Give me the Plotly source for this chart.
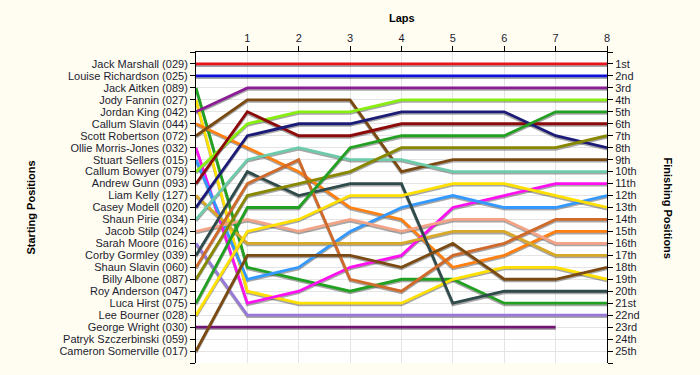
import plotly.graph_objects as go

laps = [0, 1, 2, 3, 4, 5, 6, 7, 8]

start_names = [
    "Jack Marshall (029)", "Louise Richardson (025)", "Jack Aitken (089)",
    "Jody Fannin (027)", "Jordan King (042)", "Callum Slavin (044)",
    "Scott Robertson (072)", "Ollie Morris-Jones (032)", "Stuart Sellers (015)",
    "Callum Bowyer (079)", "Andrew Gunn (093)", "Liam Kelly (127)",
    "Casey Modell (020)", "Shaun Pirie (034)", "Jacob Stilp (024)",
    "Sarah Moore (016)", "Corby Gormley (039)", "Shaun Slavin (060)",
    "Billy Albone (087)", "Roy Anderson (047)", "Luca Hirst (075)",
    "Lee Bourner (028)", "George Wright (030)", "Patryk Szczerbinski (059)",
    "Cameron Somerville (017)",
]

finish_labels = [
    "1st", "2nd", "3rd", "4th", "5th", "6th", "7th", "8th", "9th", "10th",
    "11th", "12th", "13th", "14th", "15th", "16th", "17th", "18th", "19th",
    "20th", "21st", "22nd", "23rd", "24th", "25th",
]

# positions per lap (lap 0 = start)
jack_marshall      = [1, 1, 1, 1, 1, 1, 1, 1, 1]
louise_richardson  = [2, 2, 2, 2, 2, 2, 2, 2, 2]
jack_aitken        = [3, 18, 19, 20, 19, 19, 21, 21, 21]
jody_fannin        = [4, 20, 21, 21, 21, 19, 18, 18, 19]
jordan_king        = [5, 3, 3, 3, 3, 3, 3, 3, 3]
callum_slavin      = [6, 8, 10, 13, 14, 18, 17, 15, 15]
scott_robertson    = [7, 4, 4, 4, 10, 9, 9, 9, 9]
ollie_morris_jones = [8, 21, 20, 18, 17, 13, 12, 11, 11]
stuart_sellers     = [9, 19, 18, 15, 13, 12, 13, 13, 12]
callum_bowyer      = [10, 6, 5, 5, 4, 4, 4, 4, 4]
andrew_gunn        = [11, 5, 7, 7, 6, 6, 6, 6, 6]
liam_kelly         = [12, 16, 16, 16, 16, 15, 15, 17, 17]
casey_modell       = [13, 7, 6, 6, 5, 5, 5, 7, 8]
shaun_pirie        = [14, 9, 8, 9, 9, 10, 10, 10, 10]
jacob_stilp        = [15, 14, 15, 14, 15, 14, 14, 16, 16]
sarah_moore        = [16, 22, 22, 22, 22, 22, 22, 22, 22]
corby_gormley      = [17, 10, 12, 11, 11, 21, 20, 20, 20]
shaun_slavin       = [18, 11, 9, 19, 20, 17, 16, 14, 14]
billy_albone       = [19, 12, 11, 10, 8, 8, 8, 8, 7]
luca_hirst         = [21, 13, 13, 8, 7, 7, 7, 5, 5]
lee_bourner        = [22, 15, 14, 12, 12, 11, 11, 12, 13]
george_wright      = [23, 23, 23, 23, 23, 23, 23, 23, None]
cameron_somerville = [25, 17, 17, 17, 18, 16, 19, 19, 18]

series = [
    ("Jack Marshall (029)", jack_marshall),
    ("Louise Richardson (025)", louise_richardson),
    ("Jack Aitken (089)", jack_aitken),
    ("Jody Fannin (027)", jody_fannin),
    ("Jordan King (042)", jordan_king),
    ("Callum Slavin (044)", callum_slavin),
    ("Scott Robertson (072)", scott_robertson),
    ("Ollie Morris-Jones (032)", ollie_morris_jones),
    ("Stuart Sellers (015)", stuart_sellers),
    ("Callum Bowyer (079)", callum_bowyer),
    ("Andrew Gunn (093)", andrew_gunn),
    ("Liam Kelly (127)", liam_kelly),
    ("Casey Modell (020)", casey_modell),
    ("Shaun Pirie (034)", shaun_pirie),
    ("Jacob Stilp (024)", jacob_stilp),
    ("Sarah Moore (016)", sarah_moore),
    ("Corby Gormley (039)", corby_gormley),
    ("Shaun Slavin (060)", shaun_slavin),
    ("Billy Albone (087)", billy_albone),
    ("Luca Hirst (075)", luca_hirst),
    ("Lee Bourner (028)", lee_bourner),
    ("George Wright (030)", george_wright),
    ("Cameron Somerville (017)", cameron_somerville),
]

colors = {
    "Jack Marshall (029)": "#E8141C",
    "Louise Richardson (025)": "#1010DD",
    "Jack Aitken (089)": "#22A022",
    "Jody Fannin (027)": "#FFE000",
    "Jordan King (042)": "#8A1C94",
    "Callum Slavin (044)": "#FF8010",
    "Scott Robertson (072)": "#7A4A12",
    "Ollie Morris-Jones (032)": "#FF10F0",
    "Stuart Sellers (015)": "#3399FF",
    "Callum Bowyer (079)": "#88EE10",
    "Andrew Gunn (093)": "#8C0A0A",
    "Liam Kelly (127)": "#D8A828",
    "Casey Modell (020)": "#1C1C78",
    "Shaun Pirie (034)": "#6CCCAA",
    "Jacob Stilp (024)": "#F4A486",
    "Sarah Moore (016)": "#9878D8",
    "Corby Gormley (039)": "#2F4A4A",
    "Shaun Slavin (060)": "#D06A2A",
    "Billy Albone (087)": "#888800",
    "Luca Hirst (075)": "#22A022",
    "Lee Bourner (028)": "#FFE000",
    "George Wright (030)": "#741474",
    "Cameron Somerville (017)": "#7A4A12",
}

FONT = "Liberation Sans, Arial, sans-serif"
TXT = "#1c1c30"
BG = "#FFFDF2"
SHADOW_SHIFT = 0.13

fig = go.Figure()

# shadows
for name, vals in series:
    fig.add_trace(go.Scatter(
        x=laps, y=[v + SHADOW_SHIFT if v is not None else None for v in vals],
        mode="lines", line=dict(color="rgba(60,60,60,0.45)", width=2.8),
        hoverinfo="skip", showlegend=False, yaxis="y",
    ))

# coloured lines
for name, vals in series:
    fig.add_trace(go.Scatter(
        x=laps, y=vals, mode="lines", name=name,
        line=dict(color=colors[name], width=2.8),
        showlegend=False, yaxis="y2",
    ))

ticks = list(range(0, 27))
left_text = [""] + start_names + [""]
right_text = [""] + finish_labels + [""]

fig.update_layout(
    width=700, height=375,
    margin=dict(l=196, r=93, t=52, b=12),
    paper_bgcolor=BG,
    plot_bgcolor="#FFFFFF",
    font=dict(family=FONT, size=11, color=TXT),
    xaxis=dict(
        side="top", range=[0, 8], tickvals=[1, 2, 3, 4, 5, 6, 7, 8],
        ticks="outside", ticklen=5, tickcolor="#000", showline=True,
        linecolor="#000", linewidth=1, showgrid=True, gridcolor="#E4E4E4",
        zeroline=False, tickfont=dict(size=11, color=TXT), automargin=False,
    ),
    yaxis=dict(
        range=[26, 0], tickvals=ticks, ticktext=left_text,
        ticks="outside", ticklen=5, tickcolor="#000", showline=True,
        linecolor="#000", linewidth=1, showgrid=True, gridcolor="#E4E4E4",
        zeroline=False, tickfont=dict(size=11, color=TXT), automargin=False,
    ),
    yaxis2=dict(
        range=[26, 0], tickvals=ticks, ticktext=right_text, overlaying="y",
        side="right", ticks="outside", ticklen=5, tickcolor="#000",
        showline=True, linecolor="#000", linewidth=1, showgrid=False,
        zeroline=False, tickfont=dict(size=11, color=TXT), automargin=False,
    ),
    annotations=[
        dict(text="<b>Laps</b>", xref="paper", yref="paper", x=0.5, y=1,
             yanchor="middle", xanchor="center", yshift=34, showarrow=False,
             font=dict(size=11, color="#000")),
        dict(text="<b>Starting Positions</b>", xref="paper", yref="paper",
             x=0, xshift=-166, y=0.5, xanchor="center", yanchor="middle",
             textangle=-90, showarrow=False, font=dict(size=11, color="#000")),
        dict(text="<b>Finishing Positions</b>", xref="paper", yref="paper",
             x=1, xshift=61, y=0.5, xanchor="center", yanchor="middle",
             textangle=90, showarrow=False, font=dict(size=11, color="#000")),
    ],
)

fig.write_html(
    "out.html",
    config={"displayModeBar": False},
    post_script=(
        "document.body.style.margin='0';"
        "document.body.style.background='" + BG + "';"
    ),
)
